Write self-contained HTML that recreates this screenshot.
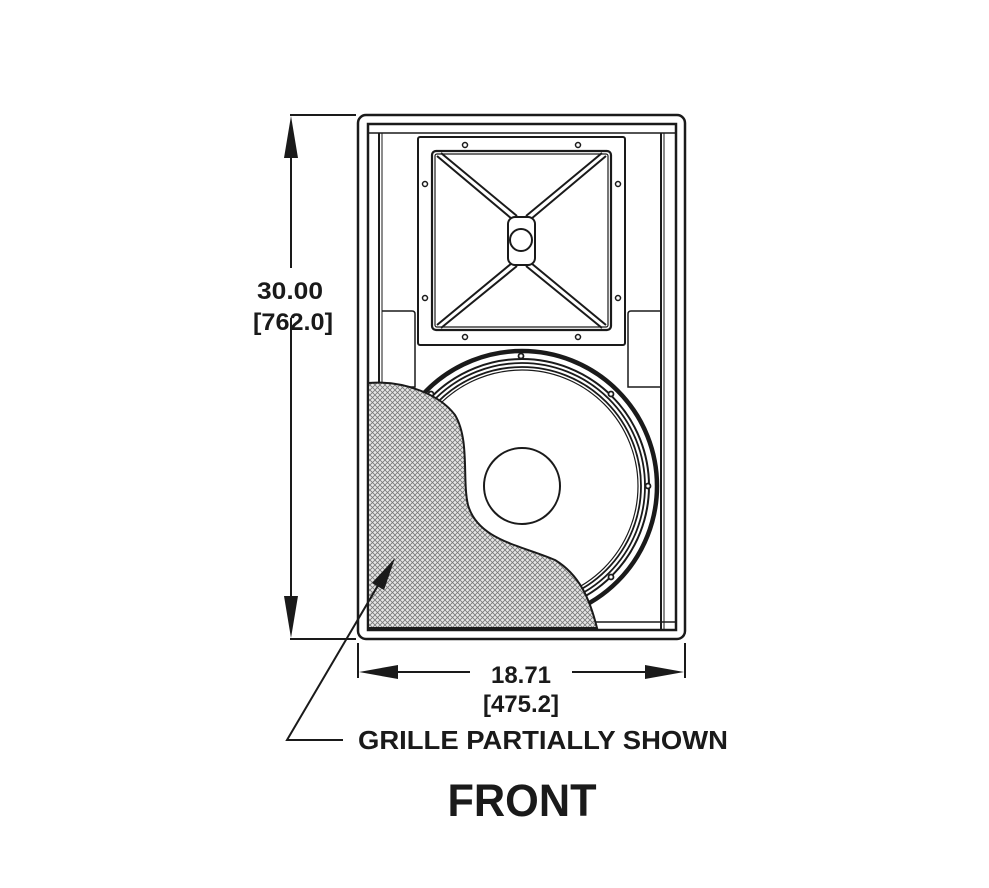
<!DOCTYPE html>
<html><head><style>html,body{margin:0;padding:0;background:#fff}svg{display:block}</style></head>
<body>
<svg width="989" height="888" viewBox="0 0 989 888" xmlns="http://www.w3.org/2000/svg" font-family="Liberation Sans, Arial, sans-serif">
<defs>
<pattern id="hatch" width="5" height="5" patternUnits="userSpaceOnUse">
<rect width="5" height="5" fill="#e6e6e6"/>
<path d="M0,0 L5,5 M5,0 L0,5" stroke="#777" stroke-width="0.8"/>
</pattern>
</defs>
<g fill="none" stroke="#1a1a1a">
<rect x="358" y="115" width="327" height="524" rx="8" stroke-width="2.5"/>
<rect x="368" y="124" width="308" height="506" stroke-width="2.5"/>
<line x1="368" y1="133" x2="676" y2="133" stroke-width="1.5"/>
<line x1="379" y1="133" x2="379" y2="630" stroke-width="2"/>
<line x1="382" y1="133" x2="382" y2="630" stroke-width="1"/>
<line x1="661" y1="133" x2="661" y2="630" stroke-width="2"/>
<line x1="664" y1="133" x2="664" y2="630" stroke-width="1"/>
<line x1="368" y1="622" x2="676" y2="622" stroke-width="1.5"/>
<path d="M382,311 L412,311 Q415,311 415,314 L415,387 L382,387" stroke-width="1.5"/>
<path d="M661,311 L631,311 Q628,311 628,314 L628,387 L661,387" stroke-width="1.5"/>
<rect x="418" y="137" width="207" height="208" rx="2" stroke-width="2"/>
<rect x="432" y="151" width="179" height="179" rx="4" stroke-width="2.2"/>
<rect x="435" y="154" width="173" height="173" rx="2" stroke-width="1.2"/>
<g stroke-width="2">
<path d="M437,156 L512,219 M441,153 L517,216"/>
<path d="M606,156 L531,219 M602,153 L526,216"/>
<path d="M437,325 L512,263 M441,328 L517,266"/>
<path d="M606,325 L531,263 M602,328 L526,266"/>
</g>
<rect x="508" y="217" width="27" height="48" rx="7" stroke-width="2" fill="#fff"/>
<circle cx="521" cy="240" r="11" stroke-width="2"/>
<g stroke-width="1.5">
<circle cx="465" cy="145" r="2.5"/><circle cx="578" cy="145" r="2.5"/>
<circle cx="465" cy="337" r="2.5"/><circle cx="578" cy="337" r="2.5"/>
<circle cx="425" cy="184" r="2.5"/><circle cx="618" cy="184" r="2.5"/>
<circle cx="425" cy="298" r="2.5"/><circle cx="618" cy="298" r="2.5"/>
</g>
<circle cx="522" cy="486" r="135" stroke-width="4.5"/>
<circle cx="522" cy="486" r="127" stroke-width="2"/>
<circle cx="522" cy="486" r="123" stroke-width="1.8"/>
<circle cx="522" cy="486" r="119" stroke-width="1.8"/>
<circle cx="522" cy="486" r="116" stroke-width="1.2"/>
<circle cx="522" cy="486" r="38" stroke-width="2"/>
<g stroke-width="1.8" fill="#fff">
<circle cx="521" cy="356" r="2.5"/><circle cx="611" cy="394" r="2.5"/>
<circle cx="648" cy="486" r="2.5"/><circle cx="611" cy="577" r="2.5"/>
<circle cx="431" cy="394" r="2.5"/>
</g>
</g>
<path d="M368,383 C405,380 440,395 455,415 C470,440 462,480 468,505 C478,540 520,545 555,560 C580,575 590,600 597,628 L368,628 Z" fill="url(#hatch)" stroke="#1a1a1a" stroke-width="2"/>
<g stroke="#1a1a1a" stroke-width="2" fill="none">
<line x1="290" y1="115" x2="356" y2="115"/>
<line x1="290" y1="639" x2="356" y2="639"/>
<line x1="291" y1="150" x2="291" y2="268"/>
<line x1="291" y1="318" x2="291" y2="610"/>
<line x1="358" y1="643" x2="358" y2="678"/>
<line x1="685" y1="643" x2="685" y2="678"/>
<line x1="390" y1="672" x2="470" y2="672"/>
<line x1="572" y1="672" x2="650" y2="672"/>
<path d="M390,565 L287,740 L343,740"/>
</g>
<g fill="#1a1a1a">
<polygon points="291,116 284,158 298,158"/>
<polygon points="291,638 284,596 298,596"/>
<polygon points="359,672 398,665 398,679"/>
<polygon points="684,672 645,665 645,679"/>
<polygon points="395,558 372,583 384,590"/>
</g>
<g fill="#1a1a1a" font-weight="bold" text-anchor="middle">
<text x="290" y="299" font-size="24" textLength="66" lengthAdjust="spacingAndGlyphs">30.00</text>
<text x="293" y="330" font-size="24" textLength="80" lengthAdjust="spacingAndGlyphs">[762.0]</text>
<text x="521" y="683" font-size="24">18.71</text>
<text x="521" y="712" font-size="24">[475.2]</text>
<text x="543" y="749" font-size="26" textLength="370" lengthAdjust="spacingAndGlyphs">GRILLE PARTIALLY SHOWN</text>
<text x="522" y="816" font-size="45" textLength="149" lengthAdjust="spacingAndGlyphs">FRONT</text>
</g>
</svg>
</body></html>
